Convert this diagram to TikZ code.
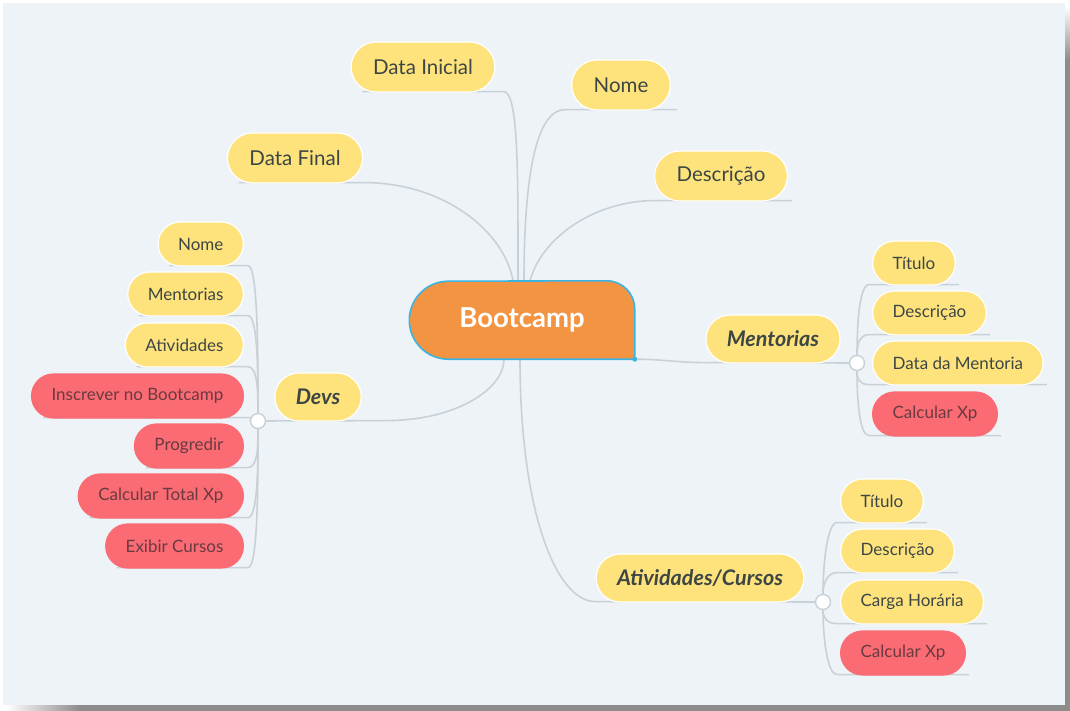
\documentclass[tikz,border=0pt]{standalone}
\usepackage{fontspec}
\setmainfont{Lato}
\usetikzlibrary{calc,positioning,backgrounds}
\usepackage{xcolor}

\definecolor{panelfill}{HTML}{EEF3F8}
\definecolor{topicfill}{HTML}{FEE37D}
\definecolor{taskfill}{HTML}{FA6B73}
\definecolor{branchline}{HTML}{C8D1D7}
\definecolor{inktopic}{HTML}{3D4644}
\definecolor{inktask}{HTML}{6A3A40}
\definecolor{corefill}{HTML}{F39442}
\definecolor{coreline}{HTML}{3BB4E2}

\begin{document}
\begin{tikzpicture}[x=1pt,y=-1pt,
    topic/.style={rounded corners=25pt, minimum height=50pt, inner xsep=22pt, fill=topicfill, draw=white, line width=1.2pt, text=inktopic, font=\fontsize{20.5}{24}\selectfont},
    subject/.style={topic, rounded corners=24pt, minimum height=48pt, inner xsep=21pt, font=\fontsize{21.5}{25}\selectfont\bfseries\itshape},
    leaf/.style={topic, rounded corners=22pt, minimum height=44pt, inner xsep=20pt, font=\fontsize{17}{20}\selectfont},
    task/.style={leaf, fill=taskfill, draw=taskfill, text=inktask},
    branch/.style={draw=branchline, line width=1.6pt},
    joint/.style={circle, fill=white, draw=branchline, line width=1.4pt, minimum size=15pt, inner sep=0pt}]

        \useasboundingbox (0,0) rectangle (1070,711);

        % Panel and shadow
        \begin{scope}[on background layer]
          \fill[panelfill] (3,3) rectangle (1065,705);
          \shade[top color=white, bottom color=black!45] (1065,6) rectangle (1070,60);
          \fill[black!45] (1065,60) rectangle (1070,711);
          \shade[left color=white, right color=black!45] (6,705) rectangle (80,711);
          \fill[black!45] (80,705) rectangle (1070,711);
        \end{scope}

        % Central topic
        \node[minimum width=225pt, minimum height=78pt, inner sep=0pt, text=white, font=\fontsize{27.5}{32}\selectfont\bfseries] (core) at (522,320) {Bootcamp};

        % Main branches
        \node[topic] (dinicial) at (423,67) {Data Inicial};
        \node[topic] (nomeB) at (621,85) {Nome};
        \node[topic] (dfinal) at (295,158) {Data Final};
        \node[topic] (descB) at (721,176) {Descrição};
        \node[subject] (devs) at (318,397) {Devs};
        \node[subject] (ment) at (773,339) {Mentorias};
        \node[subject] (ativ) at (700,578) {Atividades/Cursos};

        % Joints
        \node[joint] (devsJ) at (258,421) {};
        \node[joint] (mentJ) at (857,363) {};
        \node[joint] (ativJ) at (823,602) {};

        % Devs items
        \foreach \nm/\txt/\y/\kind in {dn/Nome/244/leaf, dm/Mentorias/294/leaf, da/Atividades/345/leaf,
            di/Inscrever no Bootcamp/396/task, dp/Progredir/446/task, dc/Calcular Total Xp/496/task, de/Exibir Cursos/546/task}
        {
          \node[\kind, anchor=east] (\nm) at (244,\y) {\txt};
        }

        % Mentorias items
        \foreach \nm/\txt/\y/\kind in {mt/Título/263/leaf, md/Descrição/313/leaf, mdm/Data da Mentoria/363/leaf, mx/Calcular Xp/414/task}
        {
          \node[\kind, anchor=west] (\nm) at (872,\y) {\txt};
        }

        % Atividades items
        \foreach \nm/\txt/\y/\kind in {at/Título/501/leaf, ad/Descrição/551/leaf, ac/Carga Horária/602/leaf, ax/Calcular Xp/653/task}
        {
          \node[\kind, anchor=west] (\nm) at (840,\y) {\txt};
        }

        \begin{scope}[on background layer]
          % Branches from the centre
          \draw[branch] ([xshift=12pt,yshift=1pt]dinicial.south west) -- ([xshift=8pt,yshift=1pt]dinicial.south east)
            to[out=0, in=90, out distance=15pt, in distance=110pt] ([xshift=-4pt]core.north);
          \draw[branch] ([xshift=6pt,yshift=1pt]nomeB.south east) -- ([xshift=-6pt,yshift=1pt]nomeB.south west)
            to[out=180, in=90, out distance=30pt, in distance=100pt] ([xshift=2pt]core.north);
          \draw[branch] ([xshift=12pt,yshift=1pt]dfinal.south west) -- ([xshift=1pt,yshift=1pt]dfinal.south east)
            to[out=0, in=100, out distance=80pt, in distance=50pt] ([xshift=-9pt]core.north);
          \draw[branch] ([xshift=4pt,yshift=1pt]descB.south east) -- ([xshift=1pt,yshift=1pt]descB.south west)
            to[out=180, in=75, out distance=60pt, in distance=45pt] ([xshift=8pt]core.north);
          \draw[branch] ([xshift=-18pt]core.south) to[out=270, in=0, out distance=30pt, in distance=70pt]
            ([xshift=24pt,yshift=1pt]devs.south east) -- (devsJ);
          \draw[branch] (core.south east) to[out=0, in=180] ([yshift=1pt]ment.south west) -- (mentJ);
          \draw[branch] ([xshift=-2pt]core.south) to[out=270, in=180, out distance=150pt, in distance=40pt]
            ([yshift=1pt]ativ.south west) -- (ativJ);

          % Item lines
          \foreach \nm/\ang in {dn/90, dm/90, da/90, di/180, dp/270, dc/270, de/270}
          {
            \draw[branch] (devsJ) to[out=\ang, in=0, in distance=10pt] ([xshift=4pt,yshift=1pt]\nm.south east) -- ([xshift=12pt,yshift=1pt]\nm.south west);
          }
          \foreach \nm/\ang in {mt/90, md/90, mdm/270, mx/270}
          {
            \draw[branch] (mentJ) to[out=\ang, in=180, in distance=10pt] ([xshift=-3pt,yshift=1pt]\nm.south west) -- ([xshift=3pt,yshift=1pt]\nm.south east);
          }
          \foreach \nm/\ang in {at/90, ad/90, ac/270, ax/270}
          {
            \draw[branch] (ativJ) to[out=\ang, in=180, in distance=10pt] ([xshift=-3pt,yshift=1pt]\nm.south west) -- ([xshift=3pt,yshift=1pt]\nm.south east);
          }

          % Central shape
          \draw[fill=corefill, draw=coreline, line width=1.6pt] (core.south east) -- ([xshift=39pt]core.south west)
            arc[start angle=270, end angle=90, radius=39pt] -- ([xshift=-28pt]core.north east)
            arc[start angle=90, end angle=0, radius=28pt] -- cycle;
          \fill[coreline] (core.south east) circle (2.5pt);
        \end{scope}
    \end{tikzpicture}
\end{document}
